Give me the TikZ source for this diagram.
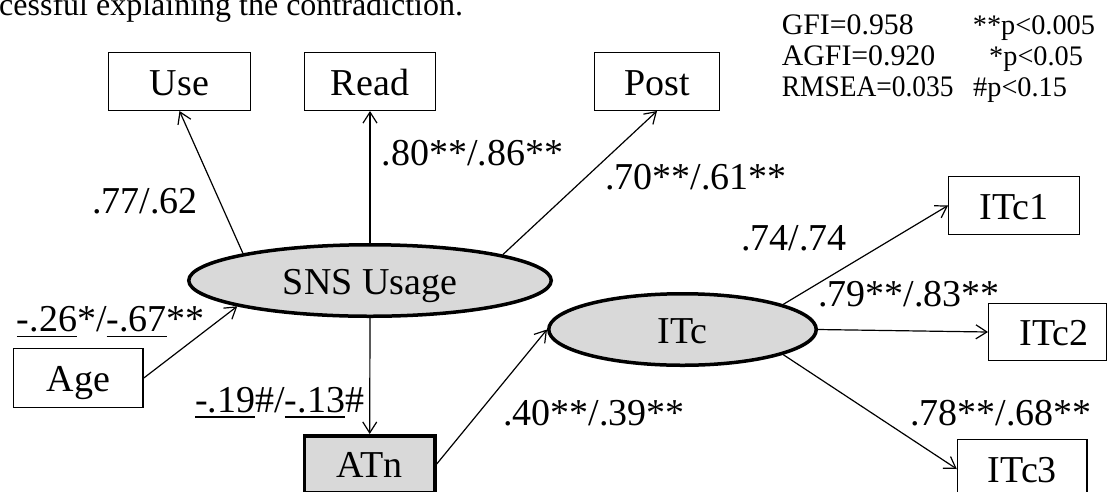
\documentclass[tikz,border=0pt]{standalone}
\usepackage{fontspec}
\usepackage{graphicx}
\setmainfont{Liberation Serif}
\usetikzlibrary{shapes.geometric,arrows.meta}
\definecolor{latgray}{HTML}{D9D9D9}
% underline drawn as a rule a little below the baseline
\newcommand\undl[1]{\setbox0\hbox{#1}\rlap{\rule[-5.5pt]{\wd0}{1.6pt}}\box0}
\begin{document}
\begin{tikzpicture}[x=1pt,y=-1pt,
  big/.style={font=\fontsize{38}{40}\selectfont},
  lbl/.style={big, inner sep=0pt, anchor=base west},
  obs/.style={big, draw, rectangle, line width=1.4pt, inner sep=0pt,
    text height=27pt, text depth=0pt},
  lat/.style={big, draw, ellipse, line width=3.5pt, fill=latgray, inner sep=0pt,
    text height=27pt, text depth=0pt, minimum height=71.5pt},
  conn/.style={line width=1.2pt, -{Straight Barb[length=11pt,width=14pt]}},
  fit/.style={font=\fontsize{29.8}{32}\selectfont, inner sep=0pt, anchor=base west},
  sig/.style={font=\fontsize{28.3}{30}\selectfont, inner sep=0pt, anchor=base west}
]
\useasboundingbox (0,0) rectangle (1108,491);
\clip (0,0) rectangle (1108,491);

% running text above the figure
\node[inner sep=0pt, anchor=base west, font=\fontsize{32}{34}\selectfont]
  (caption) at (-1,15.5) {cessful explaining the contradiction.};

% fit indices and significance levels
\node[fit] (gfi)   at (781.7,34)   {GFI=0.958};
\node[fit] (agfi)  at (781.7,65.7) {AGFI=0.920};
\node[fit] (rmsea) at (781.7,96.7) {\scalebox{0.92}[1]{RMSEA=0.035}};
\node[sig] (p1) at (972.7,34)   {**p<0.005};
\node[sig] (p2) at (989,65.7)   {*p<0.05};
\node[sig] (p3) at (973,96.7)   {\#p<0.15};

% indicators of SNS usage
\node[obs, minimum width=141.6pt, minimum height=57.6pt] (use)  at (179.5,81.5) {Use};
\node[obs, minimum width=130.6pt, minimum height=57.6pt] (read) at (370,81.5)   {Read};
\node[obs, minimum width=124.6pt, minimum height=57.6pt] (post) at (657,81.5)   {Post};

% latent variables
\node[lat, minimum width=362.5pt] (sns) at (370,280.5)   {SNS Usage};
\node[lat, minimum width=267.5pt] (itc) at (682.5,329.5) {ITc};

% exogenous and mediating variables
\node[obs, minimum width=129.6pt, minimum height=58.6pt] (age) at (78.3,378) {Age};
\node[obs, line width=3.5pt, fill=latgray, minimum width=130.5pt, minimum height=56.5pt]
  (atn) at (369.7,464) {ATn};

% indicators of ITc
\node[obs, minimum width=130.6pt, minimum height=57.6pt] (itc1) at (1014,205.5)  {ITc1};
\node[obs, minimum width=117.6pt, minimum height=56.6pt] (itc2) at (1047.5,332)  {\hspace*{13pt}ITc2};
\node[obs, minimum width=129.6pt, minimum height=58.6pt] (itc3) at (1022.3,469)  {ITc3};

% paths
\draw[conn] (sns.168)   -- (use.south);
\draw[conn] (sns.north) -- (read.south);
\draw[conn] (sns.11.5)  -- (post.south);
\draw[conn] (age.east)  -- (sns.191.5);
\draw[conn] (sns.south) -- (atn.north);
\draw[conn] (atn.east)  -- (itc.west);
\draw[conn] (itc.14.4)  -- (itc1.west);
\draw[conn] (itc.east)  -- (itc2.west);
\draw[conn] (itc.-14.4) -- (itc3.west);

% path coefficients
\node[lbl] (l-use)  at (92,213)     {.77/.62};
\node[lbl] (l-read) at (381.7,165)  {.80**/.86**};
\node[lbl] (l-post) at (605,189)    {.70**/.61**};
\node[lbl] (l-age)  at (16.7,331.7) {\undl{-.26}*/\undl{-.67}**};
\node[lbl] (l-atn)  at (195,412)    {\undl{-.19}\#/\undl{-.13}\#};
\node[lbl] (l-itc)  at (503,425)    {.40**/.39**};
\node[lbl] (l-itc1) at (741,250)    {.74/.74};
\node[lbl] (l-itc2) at (818,306.7)  {.79**/.83**};
\node[lbl] (l-itc3) at (910,425)    {.78**/.68**};
\end{tikzpicture}
\end{document}
